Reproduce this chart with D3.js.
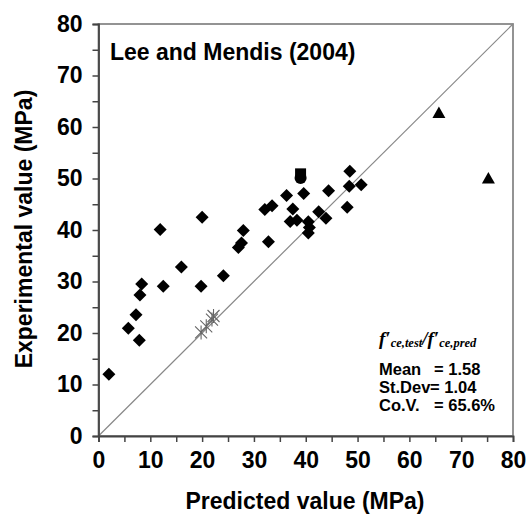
<!DOCTYPE html>
<html><head><meta charset="utf-8">
<script src="https://cdnjs.cloudflare.com/ajax/libs/d3/7.8.5/d3.min.js"></script>
<style>body{margin:0;background:#fff}svg{display:block}</style>
</head><body><svg id="c" width="526" height="519"></svg>
<script>
// Data (predicted, experimental) in MPa
const diamondsX = [2.0,5.75,7.24,8.0,8.34,7.88,12.5,11.9,16.0,19.8,20.0,24.1,27.95,27.6,27.0,32.8,32.1,33.5,36.3,39.6,37.5,37.0,38.3,44.4,42.5,43.9,40.5,40.7,40.5,48.5,48.4,50.7,48.0];
const diamondsY = [12.0,20.9,23.55,27.4,29.5,18.6,29.1,40.1,32.8,29.1,42.5,31.1,39.9,37.5,36.6,37.7,44.0,44.7,46.7,47.1,44.1,41.65,41.9,47.6,43.55,42.3,41.6,40.5,39.4,51.4,48.5,48.8,44.4];
const trianglesX = [65.7,75.25];
const trianglesY = [62.7,50.0];
const squaresX = [39.0];
const squaresY = [50.9];
const circlesX = [39.0];
const circlesY = [50.1];
const starsX = [19.8,20.8,21.9,22.2];
const starsY = [20.1,21.3,22.6,23.3];
const xTicks = [0,10,20,30,40,50,60,70,80];
const yTicks = [0,10,20,30,40,50,60,70,80];
const statLabels = ["Mean","St.Dev","Co.V."];
const statValues = ["= 1.58","= 1.04","= 65.6%"];
const titleText = "Lee and Mendis (2004)";

const svg = d3.select("#c");
const x = d3.scaleLinear().domain([0,80]).range([98.5,513]);
const y = d3.scaleLinear().domain([0,80]).range([436,24]);
const font = "'Liberation Sans', Arial, sans-serif";

// frame
svg.append("rect").attr("x",x(0)).attr("y",y(80)).attr("width",x(80)-x(0)).attr("height",y(0)-y(80))
  .attr("fill","none").attr("stroke","#888").attr("stroke-width",1.8);

// diagonal
svg.append("line").attr("x1",x(0)).attr("y1",y(0)).attr("x2",x(80)).attr("y2",y(80))
  .attr("stroke","#888").attr("stroke-width",1.2);

const minor = d3.range(0,81,5);
const xa = svg.append("g").attr("transform",`translate(0,${y(0)})`)
  .call(d3.axisBottom(x).tickValues(minor).tickSize(6).tickPadding(10)
    .tickFormat(d => xTicks.includes(d) ? d : ""));
const ya = svg.append("g").attr("transform",`translate(${x(0)},0)`)
  .call(d3.axisLeft(y).tickValues(minor).tickSize(6).tickPadding(10)
    .tickFormat(d => yTicks.includes(d) ? d : ""));
[xa,ya].forEach(a=>{
  a.select(".domain").attr("stroke","#444").attr("stroke-width",1.8);
  a.selectAll(".tick line").attr("stroke","#444").attr("stroke-width",1.5);
  a.selectAll("text").attr("font-family",font).attr("font-weight","bold").attr("font-size",23).attr("fill","#000");
});

// axis titles
svg.append("text").attr("x",305).attr("y",509).attr("text-anchor","middle")
  .attr("font-family",font).attr("font-weight","bold").attr("font-size",23).text("Predicted value (MPa)");
svg.append("text").attr("transform","translate(32,229) rotate(-90)").attr("text-anchor","middle")
  .attr("font-family",font).attr("font-weight","bold").attr("font-size",23).text("Experimental value (MPa)");

// chart title
svg.append("text").attr("x",110).attr("y",60).attr("font-family",font).attr("font-weight","bold")
  .attr("font-size",23).text(titleText);

// markers
const diamondPath = "M0,-6.5L6.5,0L0,6.5L-6.5,0Z";
svg.append("g").selectAll("path").data(diamondsX.map((v,i)=>[v,diamondsY[i]])).join("path")
  .attr("d",diamondPath).attr("transform",d=>`translate(${x(d[0])},${y(d[1])})`).attr("fill","#000");
svg.append("g").selectAll("path").data(trianglesX.map((v,i)=>[v,trianglesY[i]])).join("path")
  .attr("d","M0,-6.5L6.5,5L-6.5,5Z").attr("transform",d=>`translate(${x(d[0])},${y(d[1])})`).attr("fill","#000");
svg.append("g").selectAll("circle").data(circlesX.map((v,i)=>[v,circlesY[i]])).join("circle")
  .attr("cx",d=>x(d[0])).attr("cy",d=>y(d[1])).attr("r",6).attr("fill","#000");
svg.append("g").selectAll("rect").data(squaresX.map((v,i)=>[v,squaresY[i]])).join("rect")
  .attr("x",d=>x(d[0])-5.5).attr("y",d=>y(d[1])-5.5).attr("width",11).attr("height",11).attr("fill","#000");
svg.append("g").selectAll("path").data(starsX.map((v,i)=>[v,starsY[i]])).join("path")
  .attr("d","M0,-7L0,7M-6,-6L6,6M-6,6L6,-6").attr("transform",d=>`translate(${x(d[0])},${y(d[1])})`)
  .attr("stroke","#666").attr("stroke-width",1.1).attr("fill","none");

// stats box
const ft = svg.append("text").attr("x",379).attr("y",345).attr("font-family","'Liberation Serif','DejaVu Serif',serif")
  .attr("font-style","italic").attr("font-weight","bold");
ft.append("tspan").attr("font-size",19).text("f\u2032");
ft.append("tspan").attr("font-size",12.5).attr("dy",2).text("ce,test");
ft.append("tspan").attr("font-size",19).attr("dy",-2).text("/");
ft.append("tspan").attr("font-size",19).text("f\u2032");
ft.append("tspan").attr("font-size",12.5).attr("dy",2).text("ce,pred");

const eqX = [434,430,434];
statLabels.forEach((l,i)=>{
  const by = 375 + i*18;
  svg.append("text").attr("x",379).attr("y",by).attr("font-family",font).attr("font-weight","bold")
    .attr("font-size",16.5).text(l);
  svg.append("text").attr("x",eqX[i]).attr("y",by).attr("font-family",font).attr("font-weight","bold")
    .attr("font-size",16.5).text(statValues[i]);
});
</script></body></html>
